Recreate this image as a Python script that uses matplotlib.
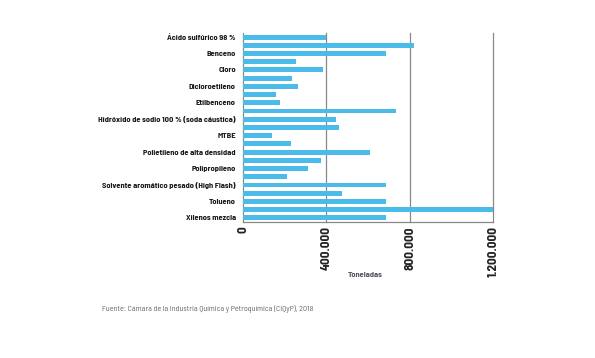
import matplotlib
matplotlib.use("Agg")
import matplotlib.pyplot as plt

labels = ["Ácido sulfúrico 98 %", "", "Benceno", "", "Cloro", "", "Dicloroetileno", "",
          "Etilbenceno", "", "Hidróxido de sodio 100 % (soda cáustica)", "", "MTBE", "",
          "Polietileno de alta densidad", "", "Polipropileno", "",
          "Solvente aromático pesado (High Flash)", "", "Tolueno", "", "Xilenos mezcla"]
values = [398000, 819000, 685000, 254000, 382000, 235000, 263000, 158000, 177000,
          736000, 445000, 460000, 139000, 230000, 608000, 374000, 311000, 211000,
          685000, 474000, 685000, 1200000, 685000]
xticks = [0, 400000, 800000, 1200000]
xticklabels = ["0", "400.000", "800.000", "1.200.000"]

fam = ["Barlow Semi Condensed", "DejaVu Sans"]

fig = plt.figure(figsize=(5.95, 3.58), dpi=100)
ax = fig.add_axes([0.408, 0.380, 0.421, 0.528])
pos = list(range(len(values)))
ax.barh(pos, values, height=0.6, color="#4BBCE9", zorder=3)
ax.set_ylim(len(values) - 0.5, -0.5)
ax.set_xlim(0, 1200000)
ax.set_yticks(pos)
ax.set_yticklabels(labels, fontsize=6.0, fontweight="bold", color="#1a1a1a", family=fam)
ax.set_xticks(xticks)
ax.set_xticklabels(xticklabels, rotation=90, fontsize=9.4, fontweight="bold", color="#222222",
                   family=fam)
ax.tick_params(axis="y", length=0, pad=5)
ax.tick_params(axis="x", length=0, pad=3)
for xv in xticks[1:]:
    ax.axvline(xv, color="#888888", linewidth=0.9, zorder=1, clip_on=False)
for s in ["top", "right"]:
    ax.spines[s].set_visible(False)
for s in ["left", "bottom"]:
    ax.spines[s].set_color("#888888")
    ax.spines[s].set_linewidth(0.9)
ax.set_xlabel("Toneladas", fontsize=6.0, fontweight="bold", color="#555566", family=fam)
ax.xaxis.set_label_coords(0.49, -0.265)
fig.text(0.172, 0.132, "Fuente: Cámara de la Industria Química y Petroquímica (CIQyP), 2018",
         fontsize=5.8, color="#666666", family=fam)
fig.savefig("out.png", dpi=100)
